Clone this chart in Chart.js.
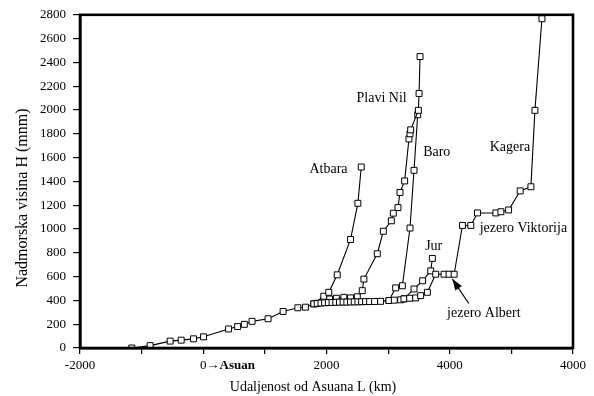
<!DOCTYPE html>
<html><head><meta charset="utf-8">
<script src="https://cdn.jsdelivr.net/npm/chart.js@4.4.1/dist/chart.umd.min.js"></script>
<style>html,body{margin:0;padding:0;background:#fff}#c{display:block}</style>
</head><body>
<canvas id="c" width="594" height="396"></canvas>
<script>
// Main stem: sea -> Asuan -> White Nile -> L. Albert -> L. Victoria -> Kagera
const mainX = [-1160,-862,-537,-358,-158,5,411,558,667,792,1052,1296,1534,1658,1794,1850,1910,1970,2030,2090,2150,2210,2270,2330,2390,2450,2510,2570,2634,2700,2780,2878,3013,3100,3203,3257,3350,3447,3528,3637,3772,3908,3989,4071,4206,4342,4450,4748,4830,4955,5143,5317,5382,5496];
const mainY = [0,20,58,66,77,94,160,180,199,224,246,307,338,343,371,375,378,380,382,383,384,385,386,386,387,388,388,389,390,390,391,392,399,402,405,413,418,421,440,468,620,620,620,620,1030,1030,1135,1135,1145,1160,1320,1355,1997,2767];
const atbaraX = [1794,1956,2037,2174,2390,2509,2564];
const atbaraY = [371,435,468,615,912,1216,1521];
const plaviNilX = [1850,1950,2050,2160,2281,2390,2500,2580,2607,2824,2922,3052,3084,3160,3193,3268,3338,3355,3366,3491,3502,3518];
const plaviNilY = [375,400,412,418,426,421,430,482,579,792,981,1069,1133,1180,1307,1404,1757,1800,1833,1997,2139,2449];
const baroX = [3013,3122,3231,3355,3420,3480];
const baroY = [399,505,523,1008,1493,1960];
const jurX = [3257,3420,3560,3691,3718];
const jurY = [413,496,565,648,753];

const xTickValues = [-2000,0,2000,4000,6000];
const xTickLabels = ['-2000','0','2000','4000','4000'];

const riverLabels = [
  {text:'Plavi Nil', x:2894, y:2102},
  {text:'Atbara', x:2033, y:1504},
  {text:'Baro', x:3789, y:1645},
  {text:'Kagera', x:4976, y:1687},
  {text:'Jur', x:3740, y:856},
  {text:'jezero Viktorija', x:5195, y:1005},
  {text:'jezero Albert', x:4553, y:291}
];
const arrowFrom = {x:4309, y:374};
const arrowTo = {x:4044, y:579};

const xTitle = 'Udaljenost od Asuana L (km)';
const yTitle = 'Nadmorska visina H (mnm)';

function pts(xs, ys){ return xs.map((x,i)=>({x:x, y:ys[i]})); }
function ds(xs, ys){
  return {data: pts(xs,ys), showLine:true, borderColor:'#000', borderWidth:1.1,
    pointStyle:'rect', pointRadius:4.2, pointBackgroundColor:'#fff',
    pointBorderColor:'#000', pointBorderWidth:1, tension:0};
}
const SERIF = '"Liberation Serif","DejaVu Serif",serif';

const overlay = {
  id:'overlay',
  beforeDraw(chart){
    const c = chart.ctx; c.save(); c.fillStyle='#fff'; c.fillRect(0,0,chart.width,chart.height); c.restore();
  },
  afterDraw(chart){
    const c = chart.ctx, a = chart.chartArea, xs = chart.scales.x, ys = chart.scales.y;
    c.save();
    c.strokeStyle='#000'; c.lineWidth=2.6;
    c.strokeRect(a.left, a.top, a.right-a.left, a.bottom-a.top);
    c.fillStyle='#000'; c.textBaseline='middle';
    xTickValues.forEach((v,i)=>{
      const px = xs.getPixelForValue(v);
      c.font = '13px '+SERIF;
      if (v===0){
        const w0 = c.measureText('0').width;
        c.textAlign='left';
        c.fillText('0\u2192', px - w0/2, 366);
        const w1 = c.measureText('0\u2192').width;
        c.font = 'bold 13px '+SERIF;
        c.fillText('Asuan', px - w0/2 + w1, 366);
      } else {
        c.textAlign='center';
        c.fillText(xTickLabels[i], px, 366);
      }
    });
    c.font = '14px '+SERIF; c.textAlign='center';
    c.fillText(xTitle, 313, 387);
    c.save(); c.translate(23, 198); c.rotate(-Math.PI/2);
    c.font = '16px '+SERIF; c.fillText(yTitle, 0, 0); c.restore();
    c.font = '14px '+SERIF; c.textAlign='center';
    riverLabels.forEach(l=>{
      c.fillText(l.text, xs.getPixelForValue(l.x), ys.getPixelForValue(l.y));
    });
    const x1 = xs.getPixelForValue(arrowFrom.x), y1 = ys.getPixelForValue(arrowFrom.y);
    const x2 = xs.getPixelForValue(arrowTo.x), y2 = ys.getPixelForValue(arrowTo.y);
    c.lineWidth=1.2; c.beginPath(); c.moveTo(x1,y1); c.lineTo(x2,y2); c.stroke();
    const ang = Math.atan2(y2-y1, x2-x1), L=11, W=4;
    c.beginPath(); c.moveTo(x2,y2);
    c.lineTo(x2 - L*Math.cos(ang) + W*Math.sin(ang), y2 - L*Math.sin(ang) - W*Math.cos(ang));
    c.lineTo(x2 - L*Math.cos(ang) - W*Math.sin(ang), y2 - L*Math.sin(ang) + W*Math.cos(ang));
    c.closePath(); c.fill();
    c.restore();
  }
};

new Chart(document.getElementById('c'), {
  type:'scatter',
  data:{datasets:[ds(mainX,mainY), ds(atbaraX,atbaraY), ds(plaviNilX,plaviNilY), ds(baroX,baroY), ds(jurX,jurY)]},
  options:{
    responsive:false, animation:false, devicePixelRatio:1,
    layout:{padding:{top:11,right:21,left:0,bottom:0}},
    plugins:{legend:{display:false}, tooltip:{enabled:false}},
    scales:{
      x:{type:'linear', min:-2000, max:6000,
        ticks:{stepSize:1000, callback:()=>'' , font:{size:1}},
        grid:{drawOnChartArea:false, drawTicks:true, tickLength:6, color:'#000', lineWidth:1.2},
        border:{display:true, color:'#000', width:2.6},
        afterFit(s){ s.height = 48; }
      },
      y:{min:0, max:2800,
        ticks:{stepSize:200, color:'#000', padding:7, font:{family:SERIF, size:13}, callback:(v)=>String(v)},
        grid:{drawOnChartArea:false, drawTicks:true, tickLength:7, color:'#000', lineWidth:1.2},
        border:{display:true, color:'#000', width:2.6},
        afterFit(s){ s.width = 80; }
      }
    }
  },
  plugins:[overlay]
});
</script>
</body></html>
